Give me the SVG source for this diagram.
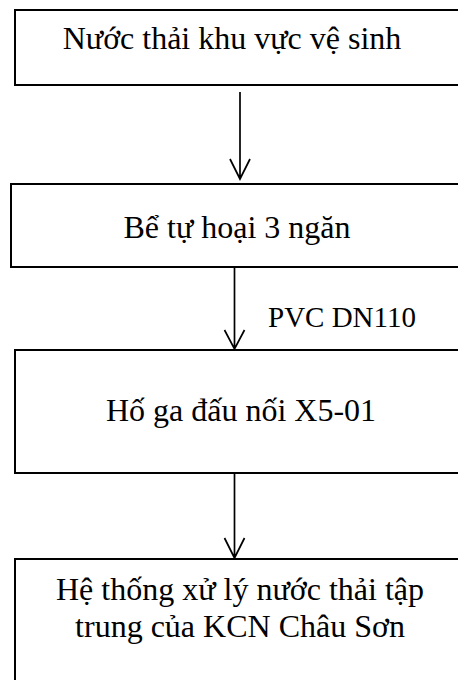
<svg xmlns="http://www.w3.org/2000/svg" width="458" height="680" viewBox="0 0 458 680">
<style>
.box{fill:#fff;stroke:#000;stroke-width:2}
.t{font-family:"Liberation Serif","Times New Roman",serif;font-size:32px;fill:#000;text-anchor:middle}
.lbl{font-family:"Liberation Serif","Times New Roman",serif;font-size:29px;fill:#000}
.c{stroke:#000;stroke-width:1.7;fill:none}
</style>
<rect width="458" height="680" fill="#fff"/>
<g id="n1"><rect class="box" x="15" y="10" width="460" height="75"/><text class="t" x="232" y="49">Nước thải khu vực vệ sinh</text></g>
<g id="n2"><rect class="box" x="11" y="184" width="464" height="83"/><text class="t" x="237" y="238">Bể tự hoại 3 ngăn</text></g>
<g id="n3"><rect class="box" x="15" y="350" width="460" height="123"/><text class="t" x="241" y="421">Hố ga đấu nối X5-01</text></g>
<g id="n4"><rect class="box" x="15" y="559" width="460" height="140"/><text class="t" x="240" y="600">Hệ thống xử lý nước thải tập</text><text class="t" x="240" y="637">trung của KCN Châu Sơn</text></g>
<g id="connectors">
<path class="c" d="M240 92V179M230 159L240 179L250 159"/>
<path class="c" d="M234.5 267V349M224.5 330L234.5 349L244.5 330"/>
<text class="lbl" x="268" y="327">PVC DN110</text>
<path class="c" d="M234.5 474V558M224.5 538L234.5 558L244.5 538"/>
</g>
</svg>
